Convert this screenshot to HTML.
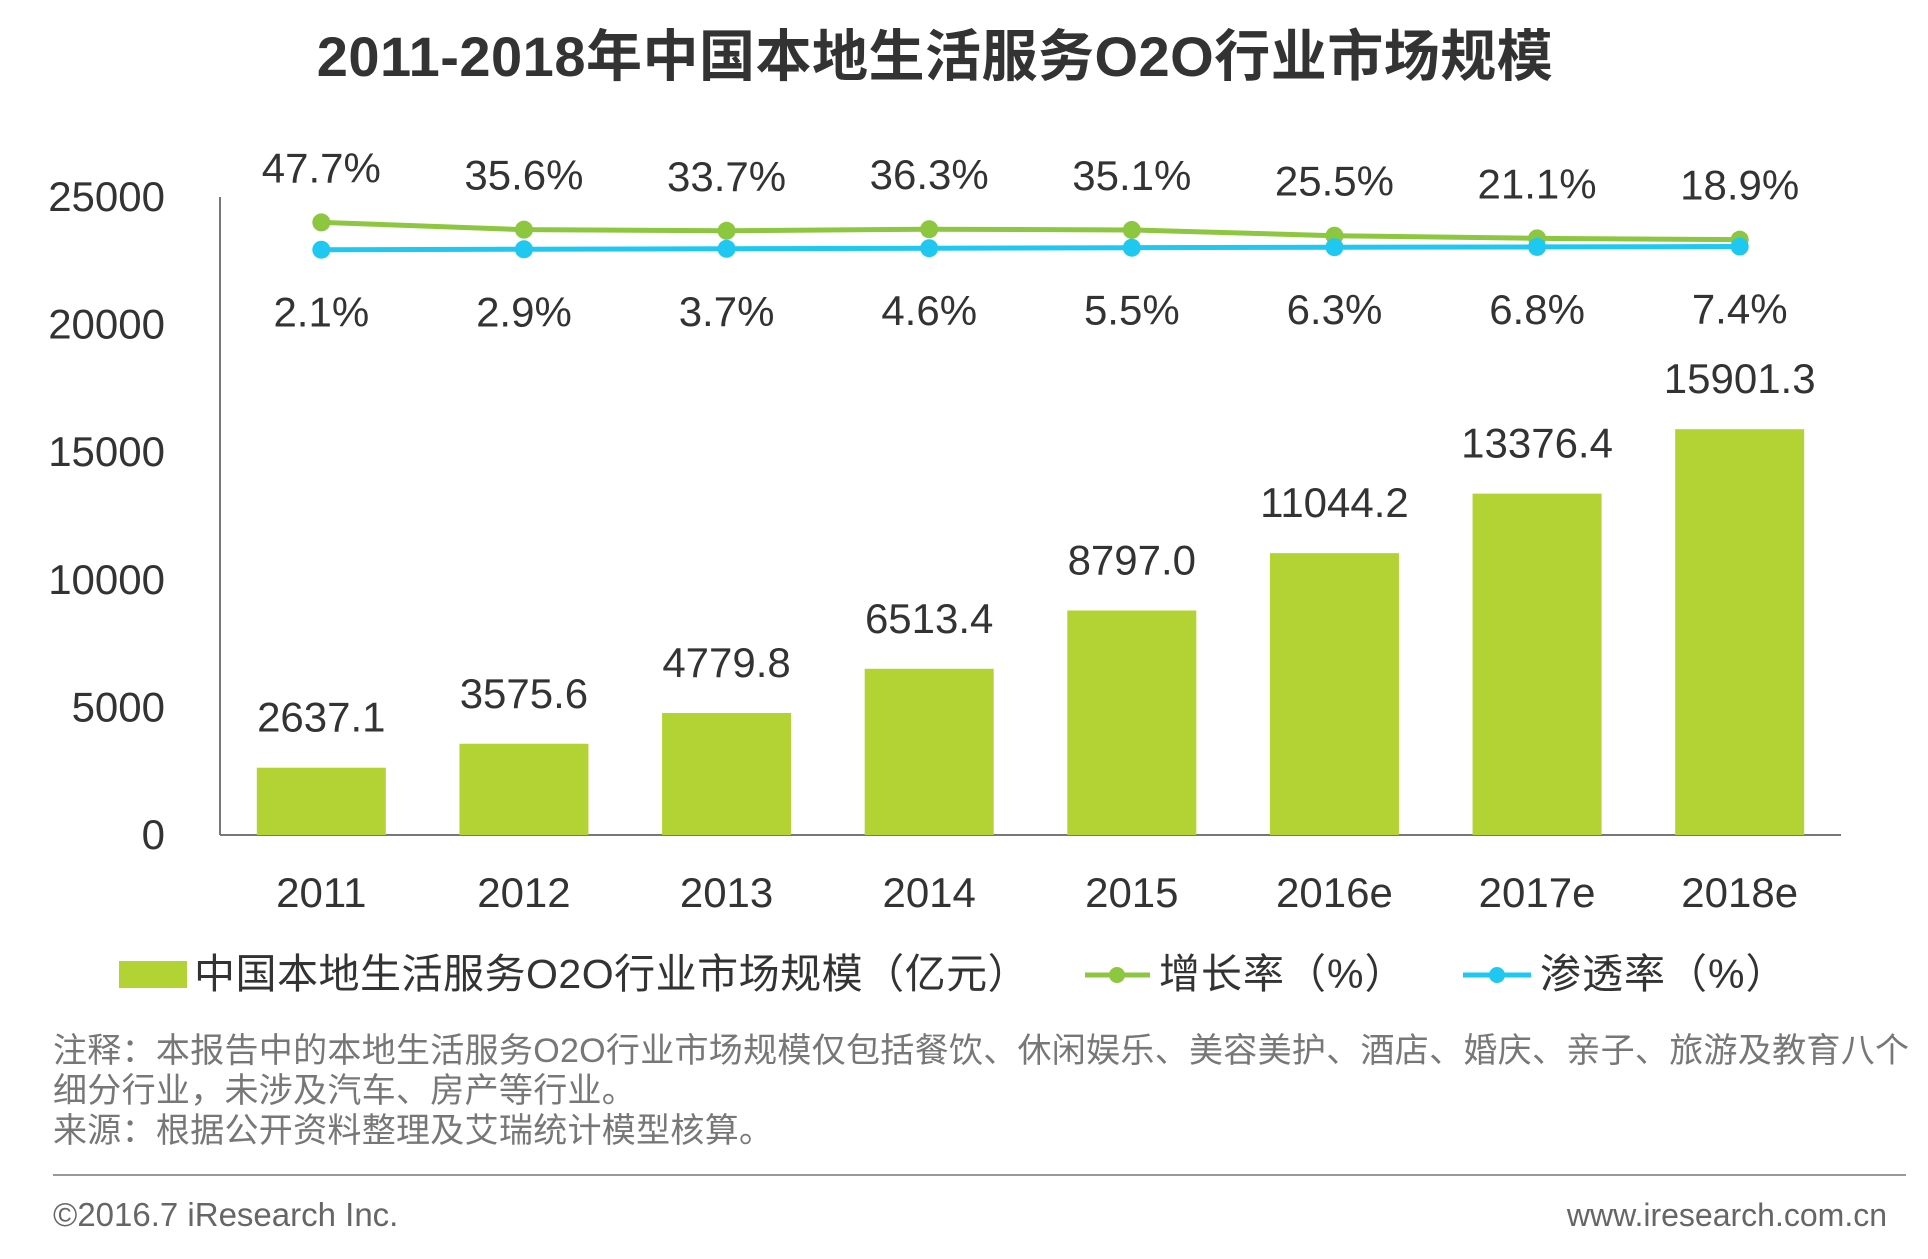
<!DOCTYPE html>
<html><head><meta charset="utf-8"><style>
body{margin:0;background:#fff;}
svg{display:block;font-family:"Liberation Sans","Noto Sans CJK SC",sans-serif;}
</style></head><body>
<svg id="chart" width="1928" height="1259" viewBox="0 0 1928 1259">
<text x="935" y="76" text-anchor="middle" font-size="56" font-weight="bold" fill="#333" letter-spacing="0.5">2011-2018年中国本地生活服务O2O行业市场规模</text>
<g id="axes"></g><g id="bars"></g><g id="lines"></g>
<g>
<rect x="119" y="961" width="68" height="27" fill="#b3d234"/>
<text x="194" y="988" font-size="41" fill="#333" letter-spacing="0.5">中国本地生活服务O2O行业市场规模（亿元）</text>
<line x1="1085" y1="975" x2="1150" y2="975" stroke="#8dc63f" stroke-width="5"/>
<circle cx="1117" cy="975" r="8" fill="#8dc63f"/>
<text x="1159" y="988" font-size="41" fill="#333" letter-spacing="1">增长率（%）</text>
<line x1="1463" y1="975" x2="1531" y2="975" stroke="#1ec8f0" stroke-width="5"/>
<circle cx="1497" cy="975" r="8" fill="#1ec8f0"/>
<text x="1540" y="988" font-size="41" fill="#333" letter-spacing="1">渗透率（%）</text>
</g>
<g font-size="34" fill="#777" letter-spacing="0.3">
<text x="53" y="1062">注释：本报告中的本地生活服务O2O行业市场规模仅包括餐饮、休闲娱乐、美容美护、酒店、婚庆、亲子、旅游及教育八个</text>
<text x="53" y="1102">细分行业，未涉及汽车、房产等行业。</text>
<text x="53" y="1142">来源：根据公开资料整理及艾瑞统计模型核算。</text>
</g>
<line x1="53" y1="1175" x2="1906" y2="1175" stroke="#999" stroke-width="2"/>
<text x="53" y="1226" font-size="33" fill="#666">©2016.7 iResearch Inc.</text>
<text x="1887" y="1226" font-size="32" fill="#666" text-anchor="end">www.iresearch.com.cn</text>
</svg>
<script>
const categories=["2011","2012","2013","2014","2015","2016e","2017e","2018e"];
const marketSize=[2637.1,3575.6,4779.8,6513.4,8797.0,11044.2,13376.4,15901.3];
const growthRate=[47.7,35.6,33.7,36.3,35.1,25.5,21.1,18.9];
const penetrationRate=[2.1,2.9,3.7,4.6,5.5,6.3,6.8,7.4];
const yTicks=[0,5000,10000,15000,20000,25000];
const NS="http://www.w3.org/2000/svg";
const x0=220,x1=1841,yBase=835,yTop=197,yMax=25000;
const band=(x1-x0)/categories.length,barW=129;
const xC=i=>x0+band*(i+0.5);
const yV=v=>yBase-(v/yMax)*(yBase-yTop);
const yP=v=>251-v*0.6;
function mk(tag,attrs,parent,txt){const e=document.createElementNS(NS,tag);for(const k in attrs)e.setAttribute(k,attrs[k]);if(txt!==undefined)e.textContent=txt;parent.appendChild(e);return e;}
const axes=document.getElementById('axes'),bars=document.getElementById('bars'),lines=document.getElementById('lines');
let el=mk('line',{x1:x0,y1:yTop,x2:x0,y2:yBase,stroke:'#777','stroke-width':2},axes);


el=mk('line',{x1:x0,y1:yBase,x2:x1,y2:yBase,stroke:'#777','stroke-width':2},axes);


yTicks.forEach(t=>{const e=mk('text',{x:165,y:yV(t)+14,'text-anchor':'end','font-size':42,fill:'#333'},axes,String(t));

});
categories.forEach((c,i)=>{
 const e=mk('text',{x:xC(i),y:907,'text-anchor':'middle','font-size':42,fill:'#333'},axes,c);
 
 
 const b=mk('rect',{x:xC(i)-barW/2,y:yV(marketSize[i]),width:barW,height:yBase-yV(marketSize[i]),fill:'#b3d234'},bars);
 
 
 const l=mk('text',{x:xC(i),y:yV(marketSize[i])-36,'text-anchor':'middle','font-size':42,fill:'#333'},bars,marketSize[i].toFixed(1));
 
 
});
function series(vals,color,name,labelDy){
 const pts=vals.map((v,i)=>xC(i)+','+yP(v)).join(' ');
 const p=mk('polyline',{points:pts,fill:'none',stroke:color,'stroke-width':5},lines);
 
 
 vals.forEach((v,i)=>{
  const c=mk('circle',{cx:xC(i),cy:yP(v),r:9,fill:color},lines);
  
  
  const t=mk('text',{x:xC(i),y:yP(v)+labelDy(i),'text-anchor':'middle','font-size':42,fill:'#333'},lines,v.toFixed(1)+'%');
  
  
 });
}
series(growthRate,'#8dc63f','growth-rate',i=>-40);
series(penetrationRate,'#1ec8f0','penetration-rate',i=>77);
</script>
</body></html>
